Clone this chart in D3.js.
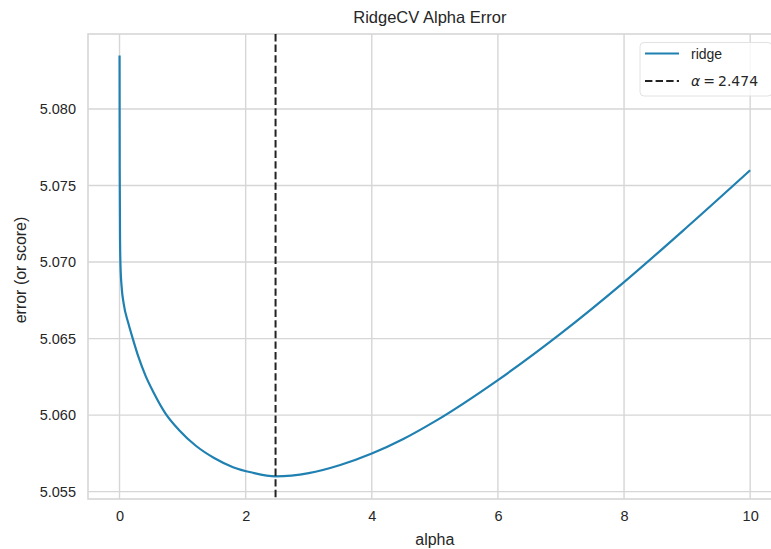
<!DOCTYPE html>
<html>
<head>
<meta charset="utf-8">
<script src="https://cdn.jsdelivr.net/npm/d3@7"></script>
<style>
  body { margin: 0; background: #fff; }
  svg { display: block; font-family: "Liberation Sans", Arial, sans-serif; }
</style>
</head>
<body>
<div id="chart"></div>
<script>
// values
const alphas = [0.0005, 0.003, 0.008, 0.015, 0.035, 0.065, 0.14, 0.21, 0.3, 0.41, 0.55, 0.73, 0.95,
	1.21, 1.5, 1.8, 2.1, 2.474, 3.0, 3.5, 4.0, 4.5, 5.0, 6.0, 7.0, 8.0, 9.0, 10.0];
const errors = [5.0835, 5.0760, 5.0715, 5.0698, 5.0683, 5.0673, 5.0660, 5.0650, 5.0638, 5.0626, 5.0614, 5.0601, 5.0590,
	5.0580, 5.0572, 5.0566, 5.05625, 5.0560, 5.05621, 5.05674, 5.05749, 5.05844, 5.05959, 5.06229, 5.06534,
	5.06869, 5.07229, 5.0760];
const bestAlpha = 2.474;
const xTicks = [0, 2, 4, 6, 8, 10];
const yTicks = [5.055, 5.060, 5.065, 5.070, 5.075, 5.080];

const totalWidth = 771;
const totalHeight = 549;
const margin = {top: 34, left: 88};
const plotRight = 781.7, plotBottom = 499;

const svg = d3.select('#chart')
	.append('svg')
	.attr('width', totalWidth)
	.attr('height', totalHeight);

const x = d3.scaleLinear().domain([-0.5, 10.5]).range([margin.left, plotRight]);
const y = d3.scaleLinear().domain([5.05452, 5.08490]).range([plotBottom, margin.top]);

const gridColor = '#d6d6d6';
const textColor = '#262626';

// grid
svg.append('g')
	.selectAll('line')
	.data(xTicks)
	.join('line')
	.attr('x1', d => x(d)).attr('x2', d => x(d))
	.attr('y1', margin.top).attr('y2', plotBottom)
	.attr('stroke', gridColor).attr('stroke-width', 1.4);

svg.append('g')
	.selectAll('line')
	.data(yTicks)
	.join('line')
	.attr('x1', margin.left).attr('x2', plotRight)
	.attr('y1', d => y(d)).attr('y2', d => y(d))
	.attr('stroke', gridColor).attr('stroke-width', 1.4);

// spines
svg.append('rect')
	.attr('x', margin.left).attr('y', margin.top)
	.attr('width', plotRight - margin.left).attr('height', plotBottom - margin.top)
	.attr('fill', 'none')
	.attr('stroke', gridColor).attr('stroke-width', 1.6);

// axes (labels only, no tick marks)
const xAxis = svg.append('g')
	.attr('transform', `translate(0, ${plotBottom})`)
	.call(d3.axisBottom(x).tickValues(xTicks).tickSize(0).tickPadding(12).tickFormat(d3.format('d')));
const yAxis = svg.append('g')
	.attr('transform', `translate(${margin.left}, 0)`)
	.call(d3.axisLeft(y).tickValues(yTicks).tickSize(0).tickPadding(12).tickFormat(d3.format('.3f')));

[xAxis, yAxis].forEach(a => {
	a.select('.domain').remove();
	a.selectAll('text')
		.attr('fill', textColor)
		.style('font-size', '14.5px')
		.style('font-family', '"Liberation Sans", Arial, sans-serif');
});

// ridge curve
const line = d3.line()
	.x((d, i) => x(alphas[i]))
	.y(d => y(d))
	.curve(d3.curveMonotoneX);

svg.append('path')
	.datum(errors)
	.attr('d', line)
	.attr('fill', 'none')
	.attr('stroke', '#1f80b1')
	.attr('stroke-width', 2.2);

// best alpha marker
svg.append('line')
	.attr('x1', x(bestAlpha)).attr('x2', x(bestAlpha))
	.attr('y1', margin.top).attr('y2', plotBottom)
	.attr('stroke', '#222')
	.attr('stroke-width', 2)
	.attr('stroke-dasharray', '7.4,3.2');

// title and labels
svg.append('text')
	.attr('x', (margin.left + plotRight) / 2 - 5)
	.attr('y', 23)
	.attr('text-anchor', 'middle')
	.attr('fill', textColor)
	.style('font-size', '16.5px')
	.text('RidgeCV Alpha Error');

svg.append('text')
	.attr('x', (margin.left + plotRight) / 2)
	.attr('y', 545)
	.attr('text-anchor', 'middle')
	.attr('fill', textColor)
	.style('font-size', '16px')
	.text('alpha');

svg.append('text')
	.attr('transform', `translate(26, 270) rotate(-90)`)
	.attr('text-anchor', 'middle')
	.attr('fill', textColor)
	.style('font-size', '16px')
	.text('error (or score)');

// legend
const legend = svg.append('g');
legend.append('rect')
	.attr('x', 640).attr('y', 42.5)
	.attr('width', 132).attr('height', 53.5)
	.attr('rx', 4)
	.attr('fill', '#fff').attr('fill-opacity', 0.8)
	.attr('stroke', '#e2e2e2').attr('stroke-width', 1);

legend.append('line')
	.attr('x1', 645).attr('x2', 679).attr('y1', 53.5).attr('y2', 53.5)
	.attr('stroke', '#1f80b1').attr('stroke-width', 2.2);
legend.append('text')
	.attr('x', 691).attr('y', 58.5)
	.attr('fill', textColor)
	.style('font-size', '14px')
	.text('ridge');

legend.append('line')
	.attr('x1', 645).attr('x2', 679).attr('y1', 81).attr('y2', 81)
	.attr('stroke', '#222').attr('stroke-width', 2)
	.attr('stroke-dasharray', '7.4,3.2');
const mathText = legend.append('text')
	.attr('x', 691).attr('y', 86)
	.attr('fill', textColor)
	.style('font-size', '14px')
	.style('font-family', '"DejaVu Sans", sans-serif');
mathText.append('tspan').style('font-style', 'italic').text('α');
mathText.append('tspan').attr('dx', 3).text('=');
mathText.append('tspan').attr('dx', 3).text(d3.format('.3f')(bestAlpha));
</script>
</body>
</html>
